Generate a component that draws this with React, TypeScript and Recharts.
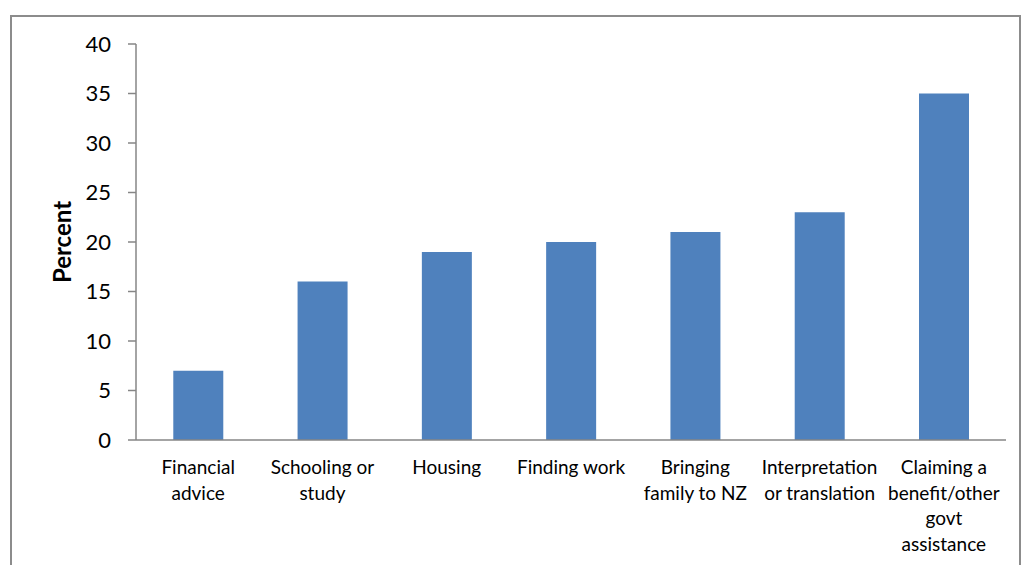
import React from "react";
import { BarChart, Bar, XAxis, YAxis } from "recharts";

// categories and values
const categories = [
  "Financial advice",
  "Schooling or study",
  "Housing",
  "Finding work",
  "Bringing family to NZ",
  "Interpretation or translation",
  "Claiming a benefit/other govt assistance",
];
const percents = [7, 16, 19, 20, 21, 23, 35];
const yTicks = [0, 5, 10, 15, 20, 25, 30, 35, 40];

const data = categories.map((name, i) => ({ name, value: percents[i] }));

const FONT = "Lato, 'Open Sans', sans-serif";

// split a label into lines of max ~14 characters, like Excel wraps it
function wrapWords(label: string, max = 14) {
  const lines: string[] = [];
  let cur = "";
  label.split(" ").forEach((w) => {
    if (!cur) cur = w;
    else if ((cur + " " + w).length <= max) cur += " " + w;
    else {
      lines.push(cur);
      cur = w;
    }
  });
  if (cur) lines.push(cur);
  return lines;
}

const CategoryTick = (props: any) => {
  const { x, y, payload } = props;
  const lines = wrapWords(payload.value);
  return (
    <g transform={`translate(${x},${y})`}>
      {lines.map((line, i) => (
        <text
          key={i}
          x={0}
          y={26 + i * 25.5}
          textAnchor="middle"
          fontFamily={FONT}
          fontSize={19}
          fill="#000"
        >
          {line}
        </text>
      ))}
    </g>
  );
};

const PercentLabel = (props: any) => {
  const { viewBox } = props;
  const cx = viewBox.x + 61;
  const cy = viewBox.y + viewBox.height / 2;
  return (
    <text
      x={cx}
      y={cy}
      transform={`rotate(-90, ${cx}, ${cy})`}
      textAnchor="middle"
      dominantBaseline="central"
      fontFamily={FONT}
      fontWeight="bold"
      fontSize={24}
      fill="#000"
    >
      Percent
    </text>
  );
};

export default function App() {
  return (
    <div
      style={{
        position: "absolute",
        left: 0,
        top: 0,
        width: 1022,
        height: 565,
        overflow: "hidden",
        background: "#fff",
      }}
    >
      {/* the grey frame around the chart, cut off at the bottom */}
      <div
        style={{
          position: "absolute",
          left: 10,
          top: 15,
          width: 1007,
          height: 600,
          border: "2px solid #8c8c8c",
        }}
      />
      <div style={{ position: "absolute", left: 0, top: 0 }}>
        <BarChart
          width={1022}
          height={565}
          data={data}
          margin={{ top: 44, right: 16, left: 0, bottom: 5 }}
          barCategoryGap="30%"
        >
          <XAxis
            dataKey="name"
            height={120}
            interval={0}
            tickLine={false}
            axisLine={{ stroke: "#868686", strokeWidth: 1.5 }}
            tick={<CategoryTick />}
          />
          <YAxis
            width={136}
            domain={[0, 40]}
            ticks={yTicks}
            interval={0}
            tickSize={8}
            tickMargin={17}
            axisLine={{ stroke: "#868686", strokeWidth: 1.5 }}
            tickLine={{ stroke: "#868686", strokeWidth: 1.5 }}
            tick={{ fontFamily: FONT, fontSize: 22, fill: "#000" }}
            label={<PercentLabel />}
          />
          <Bar dataKey="value" fill="#4f81bd" isAnimationActive={false} />
        </BarChart>
      </div>
    </div>
  );
}
